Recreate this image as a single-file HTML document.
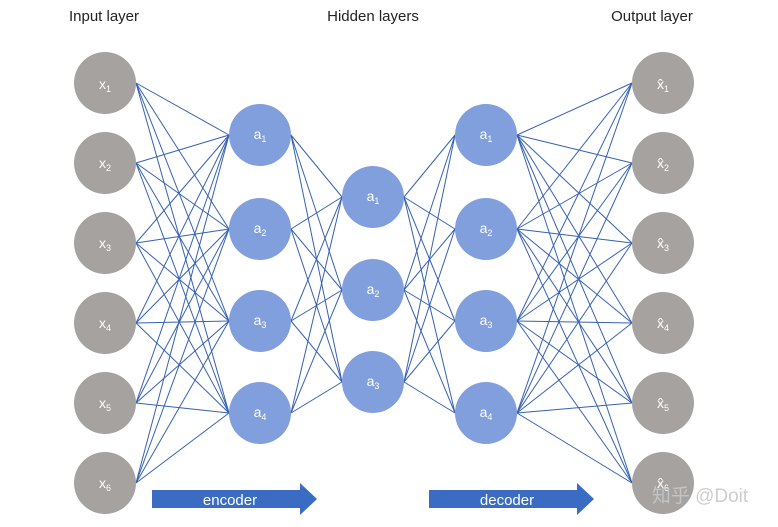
<!DOCTYPE html>
<html><head><meta charset="utf-8"><style>
html,body{margin:0;padding:0;background:#fff;}
svg{display:block;font-family:"Liberation Sans","Noto Sans CJK SC",sans-serif;}
</style></head><body>
<svg id="s" width="778" height="527" viewBox="0 0 778 527" xmlns="http://www.w3.org/2000/svg">
<g id="lines" stroke="#3561b3" stroke-width="1"></g>
<g id="nodes"></g>
<text x="104" y="21" font-size="15" text-anchor="middle" fill="#222">Input layer</text>
<text x="373" y="21" font-size="15" text-anchor="middle" fill="#222">Hidden layers</text>
<text x="652" y="21" font-size="15" text-anchor="middle" fill="#222">Output layer</text>
<g fill="#3a6cc4">
<polygon points="152,490 300,490 300,483 317,499 300,515 300,508 152,508"/>
<polygon points="429,490 577,490 577,483 594,499 577,515 577,508 429,508"/>
</g>
<text x="230" y="505" font-size="15" text-anchor="middle" fill="#fff">encoder</text>
<text x="507" y="505" font-size="15" text-anchor="middle" fill="#fff">decoder</text>
<g font-size="14" fill="#fff" text-anchor="middle">
<text x="105" y="89">x<tspan font-size="9" dy="3">1</tspan></text>
<text x="105" y="168">x<tspan font-size="9" dy="3">2</tspan></text>
<text x="105" y="248">x<tspan font-size="9" dy="3">3</tspan></text>
<text x="105" y="328">x<tspan font-size="9" dy="3">4</tspan></text>
<text x="105" y="408">x<tspan font-size="9" dy="3">5</tspan></text>
<text x="105" y="488">x<tspan font-size="9" dy="3">6</tspan></text>
<text x="260" y="139">a<tspan font-size="9" dy="3">1</tspan></text>
<text x="260" y="233">a<tspan font-size="9" dy="3">2</tspan></text>
<text x="260" y="325">a<tspan font-size="9" dy="3">3</tspan></text>
<text x="260" y="417">a<tspan font-size="9" dy="3">4</tspan></text>
<text x="373" y="201">a<tspan font-size="9" dy="3">1</tspan></text>
<text x="373" y="294">a<tspan font-size="9" dy="3">2</tspan></text>
<text x="373" y="386">a<tspan font-size="9" dy="3">3</tspan></text>
<text x="486" y="139">a<tspan font-size="9" dy="3">1</tspan></text>
<text x="486" y="233">a<tspan font-size="9" dy="3">2</tspan></text>
<text x="486" y="325">a<tspan font-size="9" dy="3">3</tspan></text>
<text x="486" y="417">a<tspan font-size="9" dy="3">4</tspan></text>
<text x="663" y="89">x̂<tspan font-size="9" dy="3">1</tspan></text>
<text x="663" y="168">x̂<tspan font-size="9" dy="3">2</tspan></text>
<text x="663" y="248">x̂<tspan font-size="9" dy="3">3</tspan></text>
<text x="663" y="328">x̂<tspan font-size="9" dy="3">4</tspan></text>
<text x="663" y="408">x̂<tspan font-size="9" dy="3">5</tspan></text>
<text x="663" y="488">x̂<tspan font-size="9" dy="3">6</tspan></text>
</g>
<text x="700" y="502" font-size="19" text-anchor="middle" fill="#c8c8c8" opacity="0.9">知乎 @Doit</text>
</svg>
<script>
(function(){
var NS="http://www.w3.org/2000/svg";
var L=[
 {x:105,ys:[83,163,243,323,403,483],c:"#a5a2a0"},
 {x:260,ys:[135,229,321,413],c:"#809fdc"},
 {x:373,ys:[197,290,382],c:"#809fdc"},
 {x:486,ys:[135,229,321,413],c:"#809fdc"},
 {x:663,ys:[83,163,243,323,403,483],c:"#a5a2a0"}];
var r=31,lg=document.getElementById("lines"),ng=document.getElementById("nodes");
for(var i=0;i<L.length-1;i++){var a=L[i],b=L[i+1];
 a.ys.forEach(function(y1){b.ys.forEach(function(y2){
  var l=document.createElementNS(NS,"line");
  l.setAttribute("x1",a.x+r);l.setAttribute("y1",y1);
  l.setAttribute("x2",b.x-r);l.setAttribute("y2",y2);lg.appendChild(l);});});}
L.forEach(function(la){la.ys.forEach(function(y){
 var c=document.createElementNS(NS,"circle");
 c.setAttribute("cx",la.x);c.setAttribute("cy",y);c.setAttribute("r",r);
 c.setAttribute("fill",la.c);ng.appendChild(c);});});
})();
</script>
</body></html>
